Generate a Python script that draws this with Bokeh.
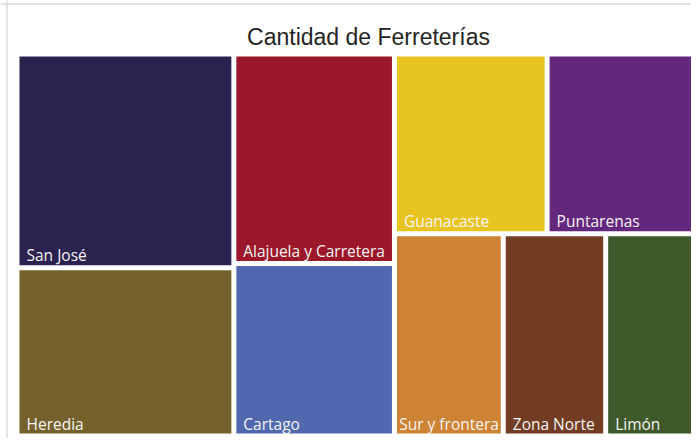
from bokeh.plotting import figure
from bokeh.models import Range1d, Label, Span, ColumnDataSource
from bokeh.core.properties import value
from bokeh.embed import file_html
from bokeh.resources import INLINE

# ---- data ----
regions = ["San José", "Heredia", "Alajuela y Carretera", "Cartago", "Guanacaste",
           "Puntarenas", "Sur y frontera", "Zona Norte", "Limón"]
counts = [179, 141, 130, 107, 106, 102, 85, 80, 69]
colors = ["#2b2250", "#74612b", "#9b1729", "#5068ad", "#e8c420",
          "#63277e", "#ce8233", "#723d22", "#3f592a"]
title_text = "Cantidad de Ferreterías"

# ---- squarified treemap layout (pixel coordinates, y downwards) ----
X0, X1, Y0, Y1 = 16.5, 693.5, 53.5, 435.5
INSET = 2.5

order = sorted(range(len(counts)), key=lambda i: -counts[i])
total = float(sum(counts))
scale = (X1 - X0) * (Y1 - Y0) / total
areas = [counts[i] * scale for i in order]


def worst(row, side):
    s = sum(row)
    return max(max(side * side * r / (s * s), (s * s) / (side * side * r)) for r in row)


rects = {}
x, y, w, h = X0, Y0, X1 - X0, Y1 - Y0
k = 0
n = len(order)
while k < n:
    vertical = w >= 0.9 * h
    side = h if vertical else w
    row = [areas[k]]
    j = k + 1
    while j < n and worst(row + [areas[j]], side) <= worst(row, side):
        row.append(areas[j])
        j += 1
    s = sum(row)
    thick = s / side
    pos = y if vertical else x
    for m, a in enumerate(row):
        length = a / thick
        idx = order[k + m]
        if vertical:
            rects[idx] = (x, x + thick, pos, pos + length)
        else:
            rects[idx] = (pos, pos + length, y, y + thick)
        pos += length
    if vertical:
        x += thick
        w -= thick
    else:
        y += thick
        h -= thick
    k = j

left, right, top, bottom = [], [], [], []
lx, ly = [], []
for i in range(len(regions)):
    l, r, t, b = rects[i]
    l, r, t, b = l + INSET, r - INSET, t + INSET, b - INSET
    left.append(l); right.append(r); top.append(t); bottom.append(b)
    est = 7.1 * len(regions[i])
    pad = min(7.0, (r - l - est) / 2.0)
    lx.append(l + max(pad, 0.0))
    ly.append(b - 10)

src = ColumnDataSource(dict(left=left, right=right, top=top, bottom=bottom,
                            color=colors, name=regions, lx=lx, ly=ly))

p = figure(width=691, height=438, x_range=Range1d(0, 691), y_range=Range1d(438, 0),
           output_backend="svg", toolbar_location=None, min_border=0,
           x_axis_type=None, y_axis_type=None)
p.grid.visible = False
p.outline_line_color = None
p.background_fill_color = "white"
p.border_fill_color = "white"

p.quad(left="left", right="right", top="top", bottom="bottom", source=src,
       fill_color="color", line_color=None)
p.text(x="lx", y="ly", text="name", source=src, text_font=value("Open Sans"),
       text_font_size="15.5px", text_color="#f4f4f4", text_align="left",
       text_baseline="alphabetic")

p.add_layout(Label(x=368, y=36, text=title_text, text_font="Liberation Sans",
                   text_font_size="23px", text_color="#252525", text_align="center",
                   text_baseline="alphabetic"))
p.add_layout(Span(location=6.5, dimension="height", line_color="#c8c8c8", line_width=1))
p.add_layout(Span(location=3.5, dimension="width", line_color="#c8c8c8", line_width=1))

open("out.html", "w").write(file_html(p, INLINE))
